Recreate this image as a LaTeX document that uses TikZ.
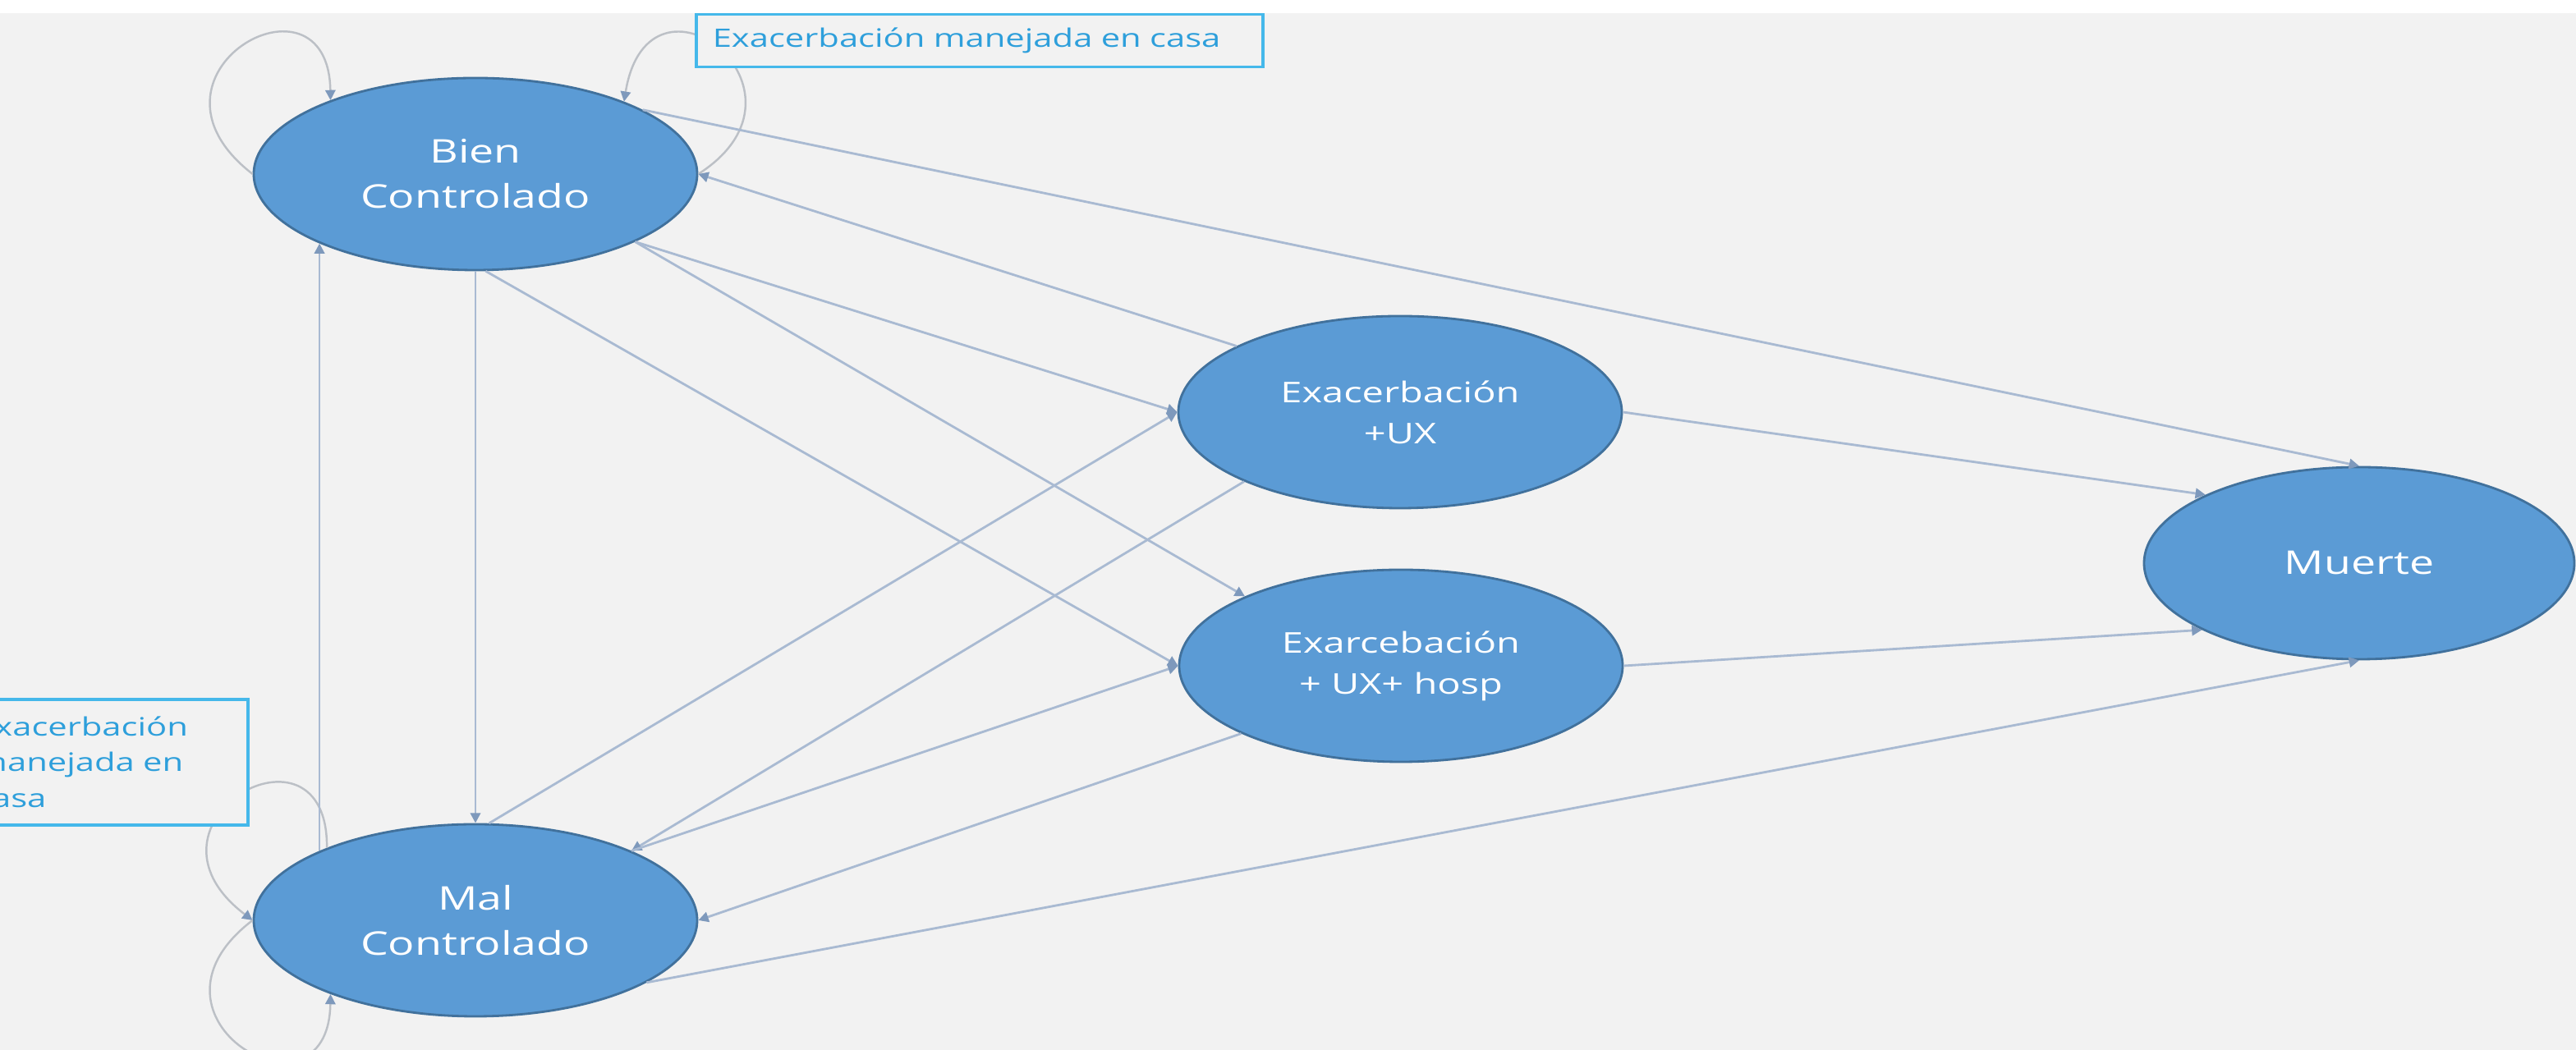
\documentclass[tikz,border=0pt]{standalone}
\usepackage{fontspec}
\usepackage{tikz}
\usetikzlibrary{arrows.meta}
\usetikzlibrary{shapes.geometric}
\newfontfamily\statefont{Open Sans}[FakeStretch=1.35]
\definecolor{bgrey}{HTML}{F2F2F2}
\definecolor{statefill}{HTML}{5B9BD5}
\definecolor{stateline}{HTML}{41719C}
\definecolor{edgecol}{HTML}{A9BAD2}
\definecolor{tipcol}{HTML}{7E99BC}
\definecolor{loopcol}{HTML}{BCC0C6}
\definecolor{notecol}{HTML}{2E9FDB}
\definecolor{noteline}{HTML}{45B8EA}
\tikzset{
  state/.style={ellipse, fill=statefill, draw=stateline, line width=0.8pt,
    minimum width=5.4cm, minimum height=2.34cm, inner sep=0pt, text=white,
    align=center, font=\statefont\fontsize{11.3}{15.6}\selectfont},
  smallstate/.style={state, font=\statefont\fontsize{9.9}{14.2}\selectfont},
  trans/.style={draw=edgecol, line width=0.8pt,
    -{Triangle[length=3.5pt,width=3.5pt,color=tipcol]}},
  selfloop/.style={trans, draw=loopcol, line width=0.7pt},
  note/.style={draw=noteline, line width=1pt, fill=bgrey, text=notecol,
    align=left, inner xsep=0.2cm, font=\statefont\fontsize{8.8}{12.5}\selectfont}
}

\begin{document}
\begin{tikzpicture}
\useasboundingbox (0,0) rectangle (31.37,12.79);
\fill[white] (0,0) rectangle (31.37,12.79);
\fill[bgrey] (0,0) rectangle (31.37,12.63);
\coordinate (b) at (5.79,10.67);
\coordinate (m) at (5.79,1.58);
\coordinate (u) at (17.05,7.77);
\coordinate (h) at (17.06,4.68);
\coordinate (d) at (28.73,5.93);
% draws states
\node[state] (bien) at (b) {Bien\\Controlado};
\node[state] (mal) at (m) {Mal\\Controlado};
\node[smallstate] (ux) at (u) {Exacerbación\\+UX};
\node[smallstate] (hosp) at (h) {Exarcebación\\+ UX+ hosp};
\node[state, minimum width=5.24cm] (muerte) at (d) {Muerte};
% draws self loops
\draw[selfloop] (bien.west) .. controls (1.50,11.89) and (4.00,13.29) .. (bien.153);
\draw[selfloop] (bien.east) .. controls (10.10,11.69) and (7.90,13.39) .. (bien.26);
\draw[selfloop] (mal.154) .. controls (4.00,4.18) and (1.50,2.78) .. (mal.west);
\draw[selfloop] (mal.west) .. controls (1.50,0.38) and (4.00,-1.02) .. (mal.207);
% draws transitions
\draw[trans] (bien.south) to (mal.north);
\draw[trans] (mal.156) to (mal.156 |- bien.204);
\draw[trans] (bien.21) to (muerte.north);
\draw[trans] (bien.-23) to (ux.west);
\draw[trans] (bien.-23) to (hosp.156);
\draw[trans] (bien.-84) to (hosp.west);
\draw[trans] (ux.158) to (bien.east);
\draw[trans] (mal.82) to (ux.west);
\draw[trans] (ux.204) to (mal.24);
\draw[trans] (mal.24) to (hosp.west);
\draw[trans] (hosp.203) to (mal.east);
\draw[trans] (ux.east) to (muerte.156);
\draw[trans] (hosp.east) to (muerte.203);
\draw[trans] (mal.-20) to (muerte.south);
% labels loops
\node[note, anchor=north west, text width=6.5cm, minimum height=0.64cm]
  (notetop) at (8.46,12.63) {Exacerbación manejada en casa};
\node[note, anchor=north east, text width=3.12cm, minimum height=1.53cm]
  (noteleft) at (3.04,4.29) {Exacerbación\\manejada en\\casa};
\end{tikzpicture}
\end{document}
